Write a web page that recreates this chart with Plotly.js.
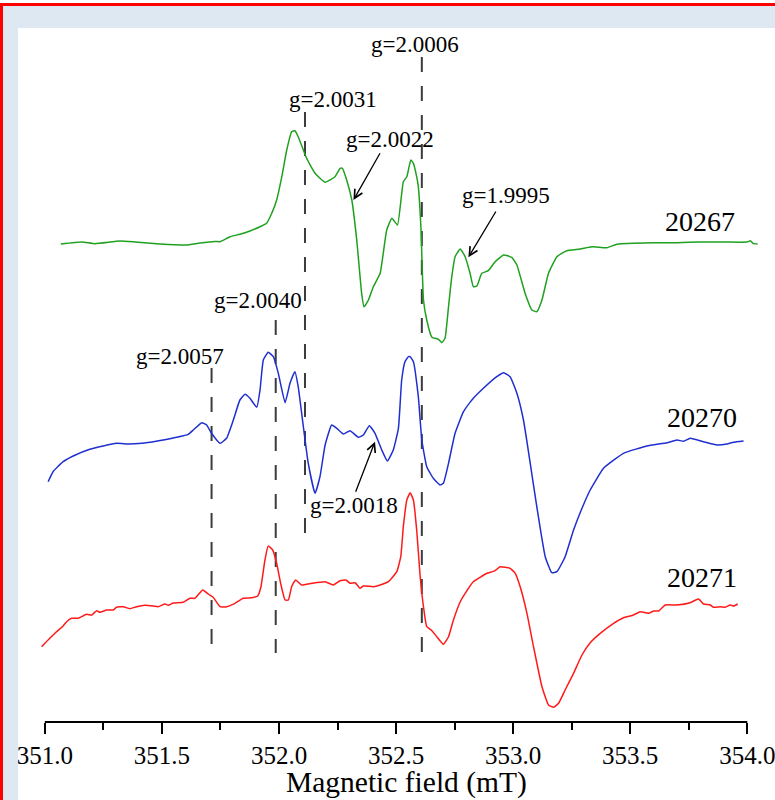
<!DOCTYPE html>
<html>
<head>
<meta charset="utf-8">
<script src="https://cdn.plot.ly/plotly-3.0.1.min.js"></script>
<style>
  html, body { margin: 0; padding: 0; background: #ffffff; }
  #frame { position: absolute; left: 0; top: 3px; width: 772px; height: 794px;
           border-left: 3px solid #ff0000; border-top: 3px solid #ff0000; background: #dde8f3; }
  #chart { position: absolute; left: 18px; top: 28px; width: 757px; height: 772px; background: #fff; }
</style>
</head>
<body>
<div id="frame"></div>
<div id="chart"></div>
<script>
// ---------------- DATA ----------------
// Sample 20267 (green)
const field20267 = [351.068,351.158,351.214,351.321,351.385,351.491,351.603,351.662,351.726,351.748,351.791,351.833,351.876,351.919,351.947,351.969,351.990,352.012,352.033,352.054,352.068,352.082,352.104,352.118,352.154,352.197,352.239,352.261,352.271,352.289,352.311,352.332,352.353,352.363,352.382,352.403,352.432,352.460,352.482,352.506,352.531,352.546,352.563,352.574,352.588,352.595,352.606,352.617,352.631,352.653,352.681,352.695,352.709,352.724,352.738,352.752,352.774,352.795,352.816,352.830,352.845,352.866,352.894,352.923,352.959,352.994,353.016,353.051,353.080,353.101,353.123,353.151,353.187,353.229,353.286,353.336,353.400,353.443,353.514,353.600,353.700,353.799,353.899,353.999,354.013,354.024,354.044];
const int20267 = [-2,0,-1.7,1,0,-2,-3,-1,0.5,0.3,5.3,7.7,11,15.3,18.7,28.7,42,65.3,92,110.3,111.3,105.3,92,83.7,68.7,59.7,65.3,73.7,73.7,62,42,2,-51.3,-64.7,-58,-44.7,-31.3,12,23.7,17,60.3,65.3,82,78.7,65.3,55.3,15.3,-58,-78,-95.3,-97.3,-100.7,-96.3,-64.7,-34.7,-14.7,-7,-14.7,-31.3,-44.7,-44,-31.3,-28.7,-19.7,-13,-15.3,-23,-51.3,-68,-69.7,-58,-31.3,-14.7,-8.7,-7,-4.7,-5.7,-2.3,-1.3,-0.7,-0.7,0,0,0,1.3,-1.3,-2];

// Sample 20270 (blue)
const field20270 = [351.014,351.035,351.078,351.121,351.192,351.249,351.306,351.363,351.449,351.506,351.563,351.612,351.634,351.670,351.691,351.712,351.748,351.776,351.805,351.833,351.855,351.876,351.905,351.919,351.933,351.954,351.976,351.997,352.026,352.047,352.068,352.082,352.104,352.125,352.154,352.175,352.197,352.225,352.247,352.275,352.303,352.339,352.360,352.386,352.410,352.439,352.463,352.488,352.510,352.524,352.538,352.553,352.560,352.574,352.595,352.610,352.631,352.659,352.688,352.702,352.724,352.752,352.788,352.830,352.873,352.930,352.959,352.987,353.016,353.044,353.073,353.101,353.137,353.165,353.187,353.222,353.258,353.294,353.329,353.386,353.471,353.571,353.657,353.700,353.728,353.756,353.813,353.871,353.913,353.941,353.984];
const int20270 = [-39.7,-29.7,-19.7,-14,-7.3,-4,-1.3,-2,-0.3,2,4.7,7.7,12,19.3,17,8.7,-1.3,3.7,22,42,47.7,43.7,34.7,52,82,89.7,85.3,68.7,39.3,58.7,70.3,55.3,15.3,-21.3,-51.3,-34.7,-3,17,13.7,8,11.3,4.7,7,16.3,8.7,-8,-19,-8,13.7,62,80.3,85.3,85.3,80.3,45.3,2,-24.7,-36.3,-43,-41.3,-21.3,8.7,30.3,43.7,53.7,65.3,69.3,65.3,48.7,22,-21.3,-64.7,-114.7,-130.7,-129.7,-114.7,-88,-66.3,-48,-26.3,-11.3,-4,-0.7,2,0.7,3.7,0.3,-3,-2,-0.3,1];

// Sample 20271 (red)
const field20271 = [350.986,351.021,351.050,351.078,351.093,351.114,351.142,351.178,351.200,351.221,351.235,351.264,351.292,351.306,351.335,351.363,351.392,351.427,351.463,351.484,351.513,351.527,351.548,351.591,351.620,351.641,351.674,351.698,351.719,351.748,351.776,351.812,351.847,351.883,351.909,351.923,351.940,351.954,351.973,351.990,352.007,352.026,352.040,352.054,352.071,352.097,352.140,352.197,352.232,352.261,352.286,352.303,352.325,352.346,352.360,352.403,352.432,352.467,352.503,352.520,352.531,352.546,352.560,352.574,352.588,352.603,352.617,352.631,352.653,352.674,352.702,352.724,352.745,352.774,352.795,352.830,352.859,352.888,352.923,352.944,352.987,353.009,353.030,353.059,353.087,353.123,353.151,353.172,353.194,353.222,353.258,353.294,353.329,353.372,353.429,353.471,353.514,353.543,353.578,353.600,353.621,353.650,353.700,353.756,353.792,353.813,353.842,353.856,353.885,353.906,353.927,353.942,353.959];
const int20271 = [-39.7,-31.3,-24.7,-19,-14.7,-11.3,-11.3,-7.3,-8,-3.7,-5.3,-3,-3,-0.3,0.3,-1.7,0.3,1.7,1,0.3,3,1.7,4,4.7,8.7,8.7,17,13,9.7,0.3,0.3,3.7,8.7,9.3,11,20.3,47,61,57,43.7,23.7,7,7,20.3,27,22,23.7,25.3,22,26.3,27,23.7,24.3,18.7,21,20.3,22,25.3,35.3,50.3,80.3,107,114.3,107,77,30.3,0.3,-19.7,-23.7,-29.7,-37.3,-29.7,-13,5.3,13.7,25.3,29.7,33.7,36.3,40.3,38.7,33.7,20.3,-6.3,-39.7,-79.7,-98,-100.3,-96.3,-83,-66.3,-48,-35.7,-26.3,-16.3,-10.7,-8,-4.7,-6.3,-4,-4,2,2,4.3,8,3,2,-0.3,0.3,-0.3,2,1,3];

const sampleNames = ['20267', '20270', '20271'];

// g-factor markers (dashed lines) and arrow-labelled g values
const gMarkerLabels = ['g=2.0057', 'g=2.0040', 'g=2.0031', 'g=2.0006'];
const gMarkerFields = [351.712, 351.986, 352.111, 352.610];
const gArrowLabels = ['g=2.0022', 'g=1.9995', 'g=2.0018'];
const gArrowFields = [352.318, 352.809, 352.410];

const xTickVals = [351.0, 351.5, 352.0, 352.5, 353.0, 353.5, 354.0];
const xTickText = ['351.0', '351.5', '352.0', '352.5', '353.0', '353.5', '354.0'];
const xMinorVals = [351.25, 351.75, 352.25, 352.75, 353.25, 353.75];

// ---------------- LAYOUT / STYLE ----------------
const offset20267 = 480, offset20270 = 280, offset20271 = 115;
const serif = 'Liberation Serif, Times New Roman, serif';

function shift(arr, off) { return arr.map(v => v + off); }

const lineShape = { shape: 'spline', smoothing: 0.4, width: 1.5 };
const traces = [
  { x: field20267, y: shift(int20267, offset20267), mode: 'lines', line: Object.assign({ color: '#1fa01f' }, lineShape), name: sampleNames[0], hoverinfo: 'skip' },
  { x: field20270, y: shift(int20270, offset20270), mode: 'lines', line: Object.assign({ color: '#1f2fcf' }, lineShape), name: sampleNames[1], hoverinfo: 'skip' },
  { x: field20271, y: shift(int20271, offset20271), mode: 'lines', line: Object.assign({ color: '#ff1a1a' }, lineShape), name: sampleNames[2], hoverinfo: 'skip' }
];

// vertical extents of the dashed marker lines (plot units)
const markerTop = [354, 402, 610, 665];
const markerBottom = [69, 69, 182, 69];
const shapes = gMarkerFields.map((f, i) => ({
  type: 'line', xref: 'x', yref: 'y', x0: f, x1: f, y0: markerTop[i], y1: markerBottom[i],
  line: { color: '#3c3c3c', width: 2, dash: '15px,14px' }, layer: 'below'
}));
// x axis line from 351 to 354
shapes.push({ type: 'line', xref: 'x', yref: 'paper', x0: 351, x1: 354, y0: 0, y1: 0,
  line: { color: '#000', width: 2 } });

const labelFont = { family: serif, size: 23, color: '#000' };
const nameFont = { family: serif, size: 28, color: '#000' };

const markerLabelPos = [[351.380, 365.5], [351.715, 421.5], [352.035, 622.3], [352.386, 677.8]];
const arrowLabelPos = [[352.278, 582.8], [352.774, 526.5], [352.124, 216.5]];
const arrowTails = [[352.435, 570.3], [352.930, 512], [352.325, 228.7]];
const arrowTipY = [522, 464.7, 280.3];
const namePos = [[353.641, 501], [353.650, 304.5], [353.650, 145]];

const annotations = [];
gMarkerLabels.forEach((t, i) => annotations.push({
  x: markerLabelPos[i][0], y: markerLabelPos[i][1], xref: 'x', yref: 'y', text: t,
  showarrow: false, xanchor: 'left', yanchor: 'middle', font: labelFont
}));
gArrowLabels.forEach((t, i) => {
  annotations.push({
    x: arrowLabelPos[i][0], y: arrowLabelPos[i][1], xref: 'x', yref: 'y', text: t,
    showarrow: false, xanchor: 'left', yanchor: 'middle', font: labelFont
  });
  annotations.push({
    x: gArrowFields[i], y: arrowTipY[i], xref: 'x', yref: 'y', text: '',
    showarrow: true, axref: 'x', ayref: 'y', ax: arrowTails[i][0], ay: arrowTails[i][1],
    arrowhead: 5, arrowsize: 1.3, arrowwidth: 1.3, arrowcolor: '#000', standoff: 0, startstandoff: 0
  });
});
sampleNames.forEach((t, i) => annotations.push({
  x: namePos[i][0], y: namePos[i][1], xref: 'x', yref: 'y', text: t,
  showarrow: false, xanchor: 'left', yanchor: 'middle', font: nameFont
}));
// axis title as annotation (precise placement under tick labels)
annotations.push({
  x: 352.543, y: 0, xref: 'x', yref: 'paper', yshift: -43, text: 'Magnetic field (mT)',
  showarrow: false, xanchor: 'center', yanchor: 'top', borderpad: 0,
  font: { family: serif, size: 29.5, color: '#000' }
});

const layout = {
  width: 757, height: 772,
  margin: { l: 21, r: 16, t: 0, b: 78, pad: 0 },
  paper_bgcolor: '#ffffff', plot_bgcolor: '#ffffff',
  showlegend: false,
  font: { family: serif, color: '#000', size: 25 },
  xaxis: {
    range: [350.975, 354.05], showgrid: false, zeroline: false, showline: false,
    tickmode: 'array', tickvals: xTickVals, ticktext: xTickText,
    ticks: 'outside', ticklen: 11, tickwidth: 2, tickcolor: '#000',
    tickfont: { family: serif, size: 25, color: '#000' },
    ticklabeloverflow: 'allow',
    minor: { tickmode: 'array', tickvals: xMinorVals, ticks: 'outside', ticklen: 7, tickwidth: 2, tickcolor: '#000', showgrid: false }
  },
  yaxis: { range: [0, 694], visible: false, showgrid: false, zeroline: false, fixedrange: true },
  shapes: shapes,
  annotations: annotations
};

Plotly.newPlot('chart', traces, layout, { displayModeBar: false, staticPlot: true });
</script>
</body>
</html>
